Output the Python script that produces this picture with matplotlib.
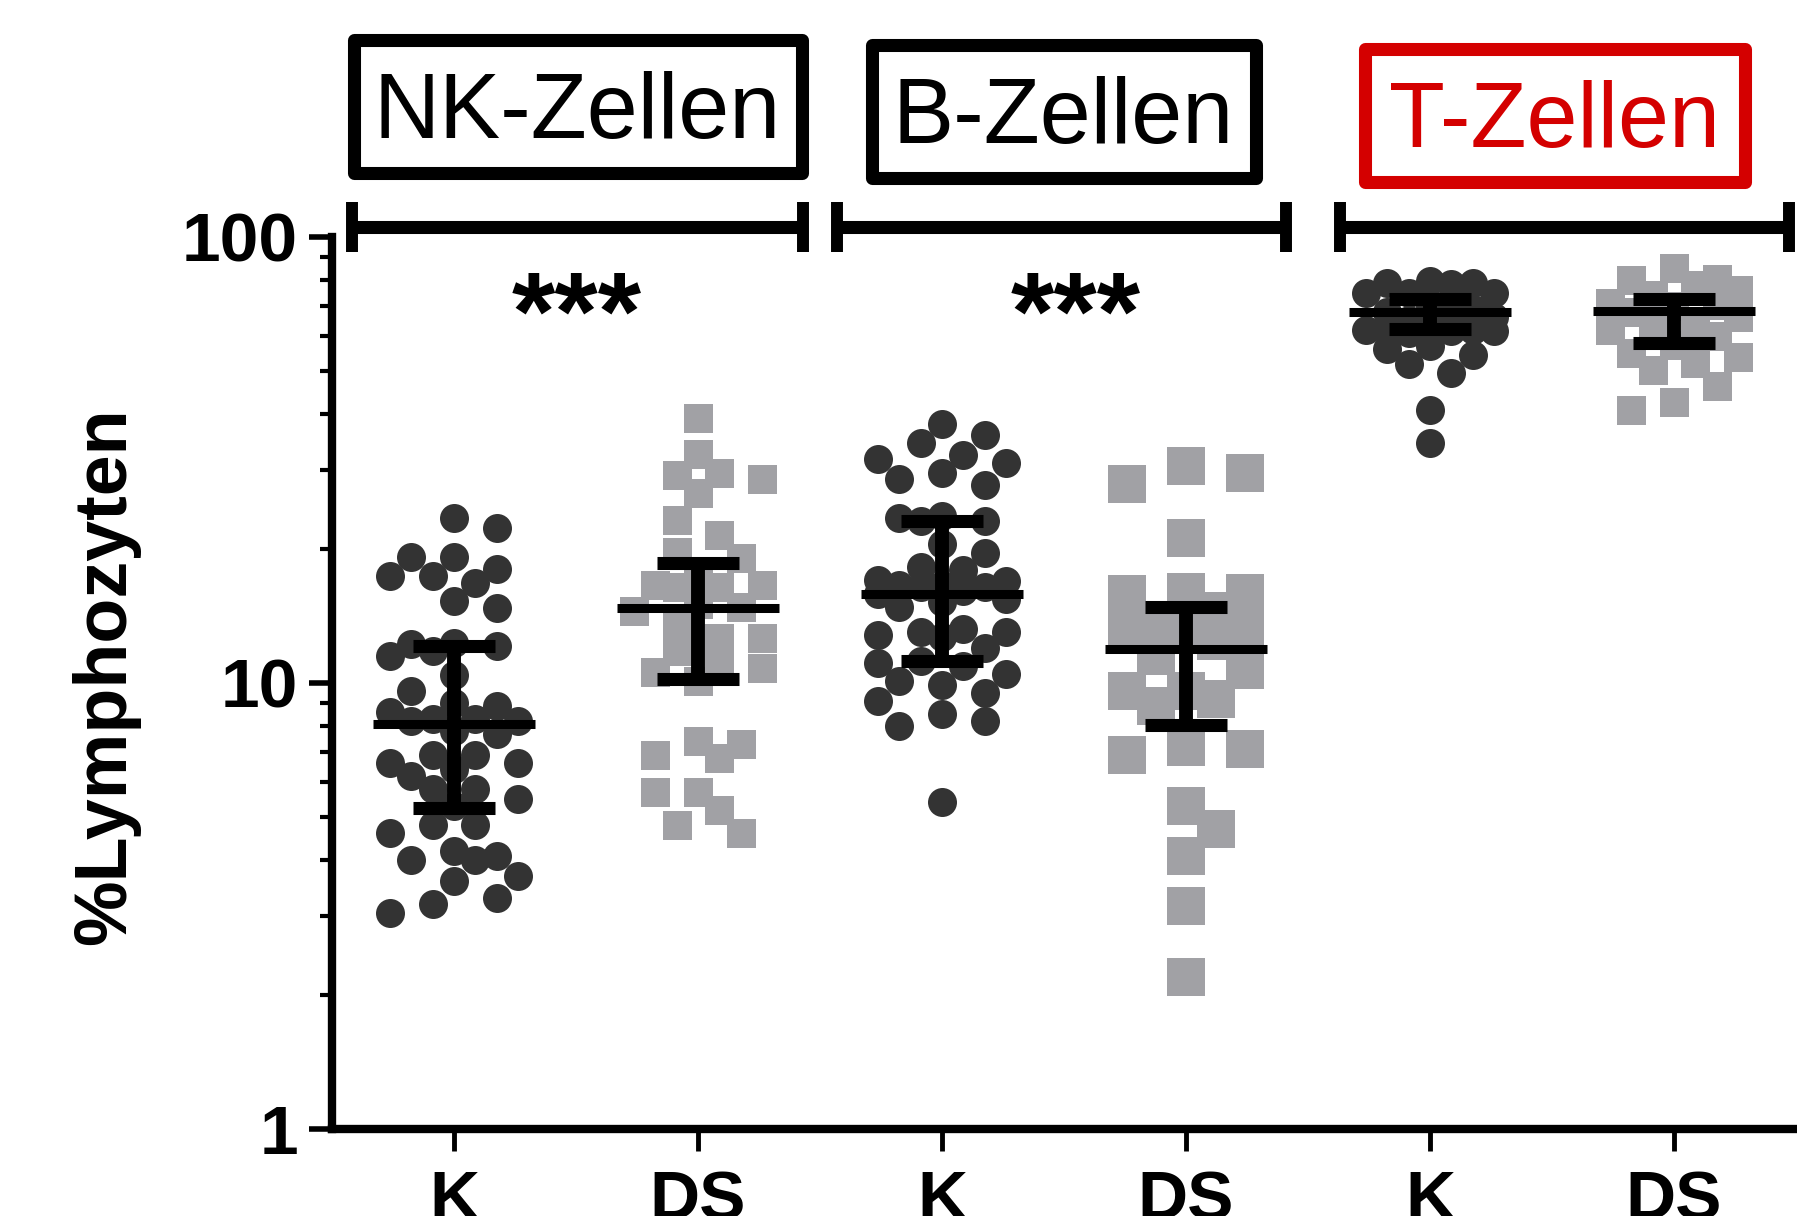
import numpy as np
import matplotlib
matplotlib.use("Agg")
import matplotlib.pyplot as plt
from matplotlib.patches import Rectangle
from matplotlib.transforms import blended_transform_factory
from matplotlib.ticker import FixedLocator, NullFormatter

plt.rcParams["font.family"] = ["Liberation Sans", "DejaVu Sans"]

# ---------------------------------------------------------------- data
categories = ["K", "DS", "K", "DS", "K", "DS"]
group_titles = ["NK-Zellen", "B-Zellen", "T-Zellen"]
significance = ["***", "***", ""]

# % of lymphocytes, one list per column
nk_k = [23.5, 22.3, 19.2, 19.2, 18.0, 17.4, 17.4, 16.8, 15.3, 14.7, 12.3, 12.2,
        12.1, 11.8, 11.5, 10.4, 9.6, 9.0, 8.9, 8.6, 8.3, 8.3, 8.2, 8.2, 7.8,
        7.7, 6.9, 6.9, 6.6, 6.6, 6.4, 6.2, 5.8, 5.8, 5.5, 5.3, 4.8, 4.8, 4.6,
        4.2, 4.1, 4.0, 4.0, 3.7, 3.6, 3.3, 3.2, 3.05]
nk_ds = [39.3, 32.7, 29.6, 29.3, 28.7, 26.7, 23.2, 21.5, 19.7, 19.1, 17.4,
         16.6, 16.6, 16.4, 16.4, 15.0, 14.8, 14.5, 13.7, 12.6, 12.6, 11.8,
         10.9, 10.8, 10.6, 10.1, 7.4, 7.3, 6.9, 6.8, 5.7, 5.7, 5.2, 4.8, 4.6]
b_k = [38.1, 36.0, 34.6, 32.5, 31.8, 31.2, 29.5, 28.7, 27.8, 23.7, 23.4, 23.1,
       23.1, 20.5, 19.6, 18.2, 17.9, 17.0, 16.9, 16.6, 16.6, 16.4, 16.4, 16.1,
       15.8, 15.4, 15.2, 14.8, 13.2, 13.0, 13.0, 12.8, 12.7, 12.0, 11.2, 11.1,
       10.9, 10.45, 10.1, 9.9, 9.5, 9.1, 8.5, 8.2, 8.0, 5.4]
b_ds = [30.7, 29.5, 28.0, 21.1, 16.0, 15.9, 15.8, 14.5, 13.2, 13.2, 13.1, 13.0,
        12.4, 11.5, 10.7, 9.6, 9.6, 9.2, 8.9, 7.2, 7.1, 6.9, 5.3, 4.7, 4.1,
        3.16, 2.19]
t_k = [79.5, 79.0, 79.0, 78.5, 75.0, 75.0, 75.0, 70.0, 69.0, 68.0, 67.0, 66.0,
       65.0, 62.0, 62.0, 61.5, 62.0, 61.5, 62.0, 61.0, 57.0, 56.0, 54.5, 52.0,
       49.6, 41.0, 34.6]
t_ds = [85.0, 80.5, 80.0, 78.0, 76.0, 74.0, 71.0, 70.4, 70.0, 68.0, 66.0, 64.0,
        63.0, 62.0, 60.0, 57.3, 55.0, 53.8, 52.2, 50.4, 46.4, 42.7, 41.0]
columns = [nk_k, nk_ds, b_k, b_ds, t_k, t_ds]

# central value and spread bar (lower, upper) per column
centers = [8.1, 14.7, 15.8, 11.9, 67.9, 68.2]
lower = [5.25, 10.2, 11.2, 8.07, 62.2, 57.9]
upper = [12.1, 18.6, 23.1, 14.8, 72.6, 72.6]

y_ticks = [1, 10, 100]
y_tick_labels = ["1", "10", "100"]

# ---------------------------------------------------------------- figure
W, H, DPI = 1797, 1216, 100
fig = plt.figure(figsize=(W / DPI, H / DPI), dpi=DPI)
ax = fig.add_axes([332 / W, 1 - 1129 / H, (1796 - 332) / W, (1129 - 237) / H])

ax.set_yscale("log")
ax.set_ylim(1, 100)
ax.set_xlim(-0.5, 5.5)

for side in ("top", "right"):
    ax.spines[side].set_visible(False)
for side in ("left", "bottom"):
    ax.spines[side].set_linewidth(6)
    ax.spines[side].set_color("black")

ax.yaxis.set_major_locator(FixedLocator(y_ticks))
ax.set_yticklabels(y_tick_labels)
minor = [m * d for d in (1, 10) for m in range(2, 10)]
ax.yaxis.set_minor_locator(FixedLocator(minor))
ax.yaxis.set_minor_formatter(NullFormatter())
ax.tick_params(axis="y", which="major", length=16.5, width=4, pad=8,
               labelsize=50, direction="out")
ax.tick_params(axis="y", which="minor", length=8.5, width=3, direction="out")
ax.set_xticks(range(len(categories)))
ax.set_xticklabels(categories)
ax.tick_params(axis="x", which="major", length=16, width=3.5, pad=13,
               labelsize=50, direction="out")
for lab in ax.get_xticklabels() + ax.get_yticklabels():
    lab.set_fontweight("bold")

fig.text(106 / W, 1 - 676 / H, "%Lymphozyten", rotation=90, ha="center",
         va="center", fontsize=53, fontweight="bold")

# ---------------------------------------------------------------- swarm layout
fig.canvas.draw()
px_per_unit = ax.transData.transform((1, 1))[0] - ax.transData.transform((0, 1))[0]


def swarm(values, x0, diam, max_lane=3, spacing=0.74, min_sep=0.95):
    vals = np.asarray(values, dtype=float)
    ys = ax.transData.transform(np.column_stack([np.full(len(vals), x0), vals]))[:, 1]
    order = np.argsort(-vals, kind="stable")
    step = spacing * diam
    need = min_sep * diam
    placed = []
    offs = np.zeros(len(vals))
    side = 1
    for i in order:
        y = ys[i]
        lanes = [0]
        for k in range(1, max_lane + 1):
            lanes += [side * k, -side * k]
        best_lane, best_gap = 0, -1.0
        for k in lanes:
            x = k * step
            gap = min((np.hypot(x - px, y - py) for px, py in placed), default=1e9)
            if gap >= need:
                best_lane, best_gap = k, gap
                break
            if gap > best_gap:
                best_lane, best_gap = k, gap
        if best_lane != 0:
            side = -side
        placed.append((best_lane * step, y))
        offs[i] = best_lane * step / px_per_unit
    return x0 + offs


dark, grey = "#333333", "#A1A1A5"
# marker, colour, size in px, widest lane
styles = [("o", dark, 29, 3), ("s", grey, 29, 3), ("o", dark, 29, 3),
          ("s", grey, 38, 2), ("o", dark, 29, 3), ("s", grey, 29, 3)]

for i, (vals, (mk, col, d, lanes)) in enumerate(zip(columns, styles)):
    xs = swarm(vals, i, d, max_lane=lanes, spacing=0.74 if lanes == 3 else 0.78)
    ax.plot(xs, vals, linestyle="none", marker=mk, color=col,
            markersize=d * 72 / DPI, markeredgewidth=0, zorder=2, clip_on=False)

# central value and spread bars
for i in range(len(columns)):
    ax.plot([i - 0.33, i + 0.33], [centers[i]] * 2, color="black", lw=6.5,
            solid_capstyle="butt", zorder=4)
    ax.plot([i, i], [lower[i], upper[i]], color="black", lw=10,
            solid_capstyle="butt", zorder=4)
    for v in (lower[i], upper[i]):
        ax.plot([i - 0.17, i + 0.17], [v, v], color="black", lw=9.4,
                solid_capstyle="butt", zorder=4)

# ---------------------------------------------------------------- group brackets
bt = blended_transform_factory(ax.transData, ax.transAxes)
spans = [(-0.42, 1.43), (1.57, 3.41), (3.63, 5.47)]
y_line = (1129 - 227) / (1129 - 237)
y_cap0, y_cap1 = (1129 - 252) / (1129 - 237), (1129 - 202) / (1129 - 237)
for (a, b) in spans:
    ax.plot([a, b], [y_line, y_line], transform=bt, color="black", lw=9.4,
            solid_capstyle="butt", clip_on=False, zorder=5)
    for xc in (a, b):
        ax.plot([xc, xc], [y_cap0, y_cap1], transform=bt, color="black", lw=8.6,
                solid_capstyle="butt", clip_on=False, zorder=5)

# significance marks
star_x = [0.505, 2.55]
for xs_, s in zip(star_x, significance):
    ax.text(xs_, (1129 - 350) / (1129 - 237), s, transform=bt, ha="center",
            va="baseline", fontsize=80, fontweight="bold")

# ---------------------------------------------------------------- titled boxes
boxes = [(353.5, 39.5, 801.5, 172.5), (871.5, 44.5, 1255.5, 177.5),
         (1364.5, 48.5, 1744.5, 181.5)]
baselines = [138, 143, 147]
box_colors = ["black", "black", "#D40000"]
for (x0, y0, x1, y1), base, title, c in zip(boxes, baselines, group_titles, box_colors):
    fig.patches.append(Rectangle((x0 / W, 1 - y1 / H), (x1 - x0) / W, (y1 - y0) / H,
                                 transform=fig.transFigure, fill=False,
                                 edgecolor=c, linewidth=9.4, joinstyle="round"))
    fig.text((x0 + x1) / 2 / W, 1 - base / H, title, ha="center", va="baseline",
             fontsize=66, color=c)

fig.savefig("out.png", dpi=DPI)
